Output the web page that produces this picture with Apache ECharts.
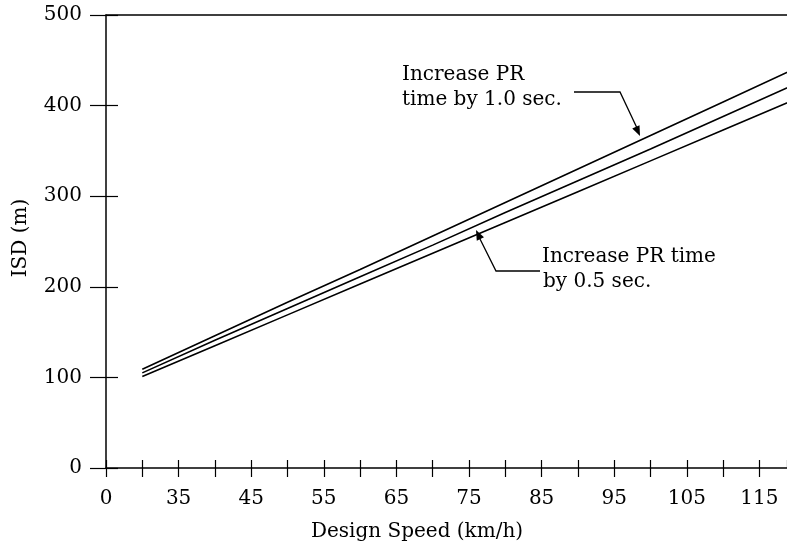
<!DOCTYPE html>
<html>
<head>
<meta charset="utf-8">
<script src="https://cdn.jsdelivr.net/npm/echarts@6/dist/echarts.min.js"></script>
<style>html,body{margin:0;padding:0;background:#fff;}#c{width:787px;height:544px;}</style>
</head>
<body>
<div id="c"></div>
<script>
// Design speed (km/h)
var speeds = [30, 40, 50, 60, 70, 80, 90, 100, 110, 120];
// ISD (m) for base PR time, +0.5 s, +1.0 s
var isdBase = [101, 135, 169, 203, 237, 271, 305, 339, 373, 407];
var isdPlus05 = [105, 141, 176, 211, 246, 282, 317, 352, 388, 424];
var isdPlus10 = [109, 146, 183, 219, 256, 293, 330, 367, 404, 441];
// x tick labels: axis break, first tick shown as "0"
var xTickValues = [25, 35, 45, 55, 65, 75, 85, 95, 105, 115];
var xTickLabels = ['0', '35', '45', '55', '65', '75', '85', '95', '105', '115'];
var yTicks = [0, 100, 200, 300, 400, 500];

var FONT = 'DejaVu Serif';
var INK = '#000';

function pairs(xs, ys) { return xs.map(function (x, i) { return [x, ys[i]]; }); }

var chart = echarts.init(document.getElementById('c'), null, { renderer: 'canvas' });

function xFmt(v) {
  var i = xTickValues.indexOf(Math.round(v));
  return (i >= 0 && Math.abs(v - xTickValues[i]) < 1e-6) ? xTickLabels[i] : '';
}

function arrowHead(tip, from, len, half) {
  var dx = tip[0] - from[0], dy = tip[1] - from[1];
  var L = Math.sqrt(dx * dx + dy * dy); dx /= L; dy /= L;
  var bx = tip[0] - dx * len, by = tip[1] - dy * len;
  return {
    type: 'polygon',
    shape: { points: [tip, [bx - dy * half, by + dx * half], [bx + dy * half, by - dx * half]] },
    style: { fill: INK }
  };
}

var lineStyleCommon = { color: INK, width: 1.6 };

var option = {
  backgroundColor: '#fff',
  animation: false,
  grid: { left: 106, right: 0, top: 15, bottom: 76, containLabel: false },
  xAxis: [
    {
      type: 'value', position: 'bottom', min: 25, max: 118.8, interval: 5,
      axisLine: { show: true, lineStyle: { color: INK, width: 1.5 } },
      axisTick: { show: true, inside: false, length: 9, lineStyle: { color: INK, width: 1.2 } },
      axisLabel: { show: true, formatter: xFmt, margin: 21, color: INK, fontFamily: FONT, fontSize: 20, showMaxLabel: false },
      splitLine: { show: false }
    },
    {
      type: 'value', position: 'bottom', min: 25, max: 118.8, interval: 5,
      axisLine: { show: false },
      axisTick: { show: true, inside: true, length: 8, lineStyle: { color: INK, width: 1.2 } },
      axisLabel: { show: false },
      splitLine: { show: false }
    },
    {
      type: 'value', position: 'top', min: 25, max: 118.8,
      axisLine: { show: true, lineStyle: { color: INK, width: 1.5 } },
      axisTick: { show: false }, axisLabel: { show: false }, splitLine: { show: false }
    }
  ],
  yAxis: [
    {
      type: 'value', position: 'left', min: 0, max: 500, interval: 100,
      axisLine: { show: true, lineStyle: { color: INK, width: 1.5 } },
      axisTick: { show: true, inside: false, length: 16, lineStyle: { color: INK, width: 1.2 } },
      axisLabel: { show: true, margin: 24, color: INK, fontFamily: FONT, fontSize: 20 },
      splitLine: { show: false }
    },
    {
      type: 'value', position: 'left', min: 0, max: 500, interval: 100,
      axisLine: { show: false },
      axisTick: { show: true, inside: true, length: 12, lineStyle: { color: INK, width: 1.2 } },
      axisLabel: { show: false }, splitLine: { show: false }
    }
  ],
  series: [
    { name: 'Base PR time', type: 'line', xAxisIndex: 0, yAxisIndex: 0, data: pairs(speeds, isdBase),
      showSymbol: false, lineStyle: lineStyleCommon, clip: true, silent: true },
    { name: 'Increase PR time by 0.5 sec.', type: 'line', xAxisIndex: 0, yAxisIndex: 0, data: pairs(speeds, isdPlus05),
      showSymbol: false, lineStyle: lineStyleCommon, clip: true, silent: true },
    { name: 'Increase PR time by 1.0 sec.', type: 'line', xAxisIndex: 0, yAxisIndex: 0, data: pairs(speeds, isdPlus10),
      showSymbol: false, lineStyle: lineStyleCommon, clip: true, silent: true }
  ],
  graphic: [
    { type: 'text', x: 21, y: 238, rotation: Math.PI / 2,
      style: { text: 'ISD (m)', font: '20px "' + FONT + '"', fill: INK, textAlign: 'center', textVerticalAlign: 'middle' } },
    { type: 'text', x: 417, y: 532,
      style: { text: 'Design Speed (km/h)', font: '20px "' + FONT + '"', fill: INK, textAlign: 'center', textVerticalAlign: 'middle' } },
    { type: 'text', x: 402, y: 75,
      style: { text: 'Increase PR', font: '20px "' + FONT + '"', fill: INK, textAlign: 'left', textVerticalAlign: 'middle' } },
    { type: 'text', x: 402, y: 100,
      style: { text: 'time by 1.0 sec.', font: '20px "' + FONT + '"', fill: INK, textAlign: 'left', textVerticalAlign: 'middle' } },
    { type: 'text', x: 542, y: 257,
      style: { text: 'Increase PR time', font: '20px "' + FONT + '"', fill: INK, textAlign: 'left', textVerticalAlign: 'middle' } },
    { type: 'text', x: 543, y: 282,
      style: { text: 'by 0.5 sec.', font: '20px "' + FONT + '"', fill: INK, textAlign: 'left', textVerticalAlign: 'middle' } },
    { type: 'polyline', shape: { points: [[574, 92], [620, 92], [637, 128]] },
      style: { stroke: INK, lineWidth: 1.3, fill: null } },
    arrowHead([640, 136], [620, 92], 10, 4),
    { type: 'polyline', shape: { points: [[540, 271], [496, 271], [479, 237]] },
      style: { stroke: INK, lineWidth: 1.3, fill: null } },
    arrowHead([476, 230], [496, 271], 10, 4)
  ]
};
chart.setOption(option);
</script>
</body>
</html>
